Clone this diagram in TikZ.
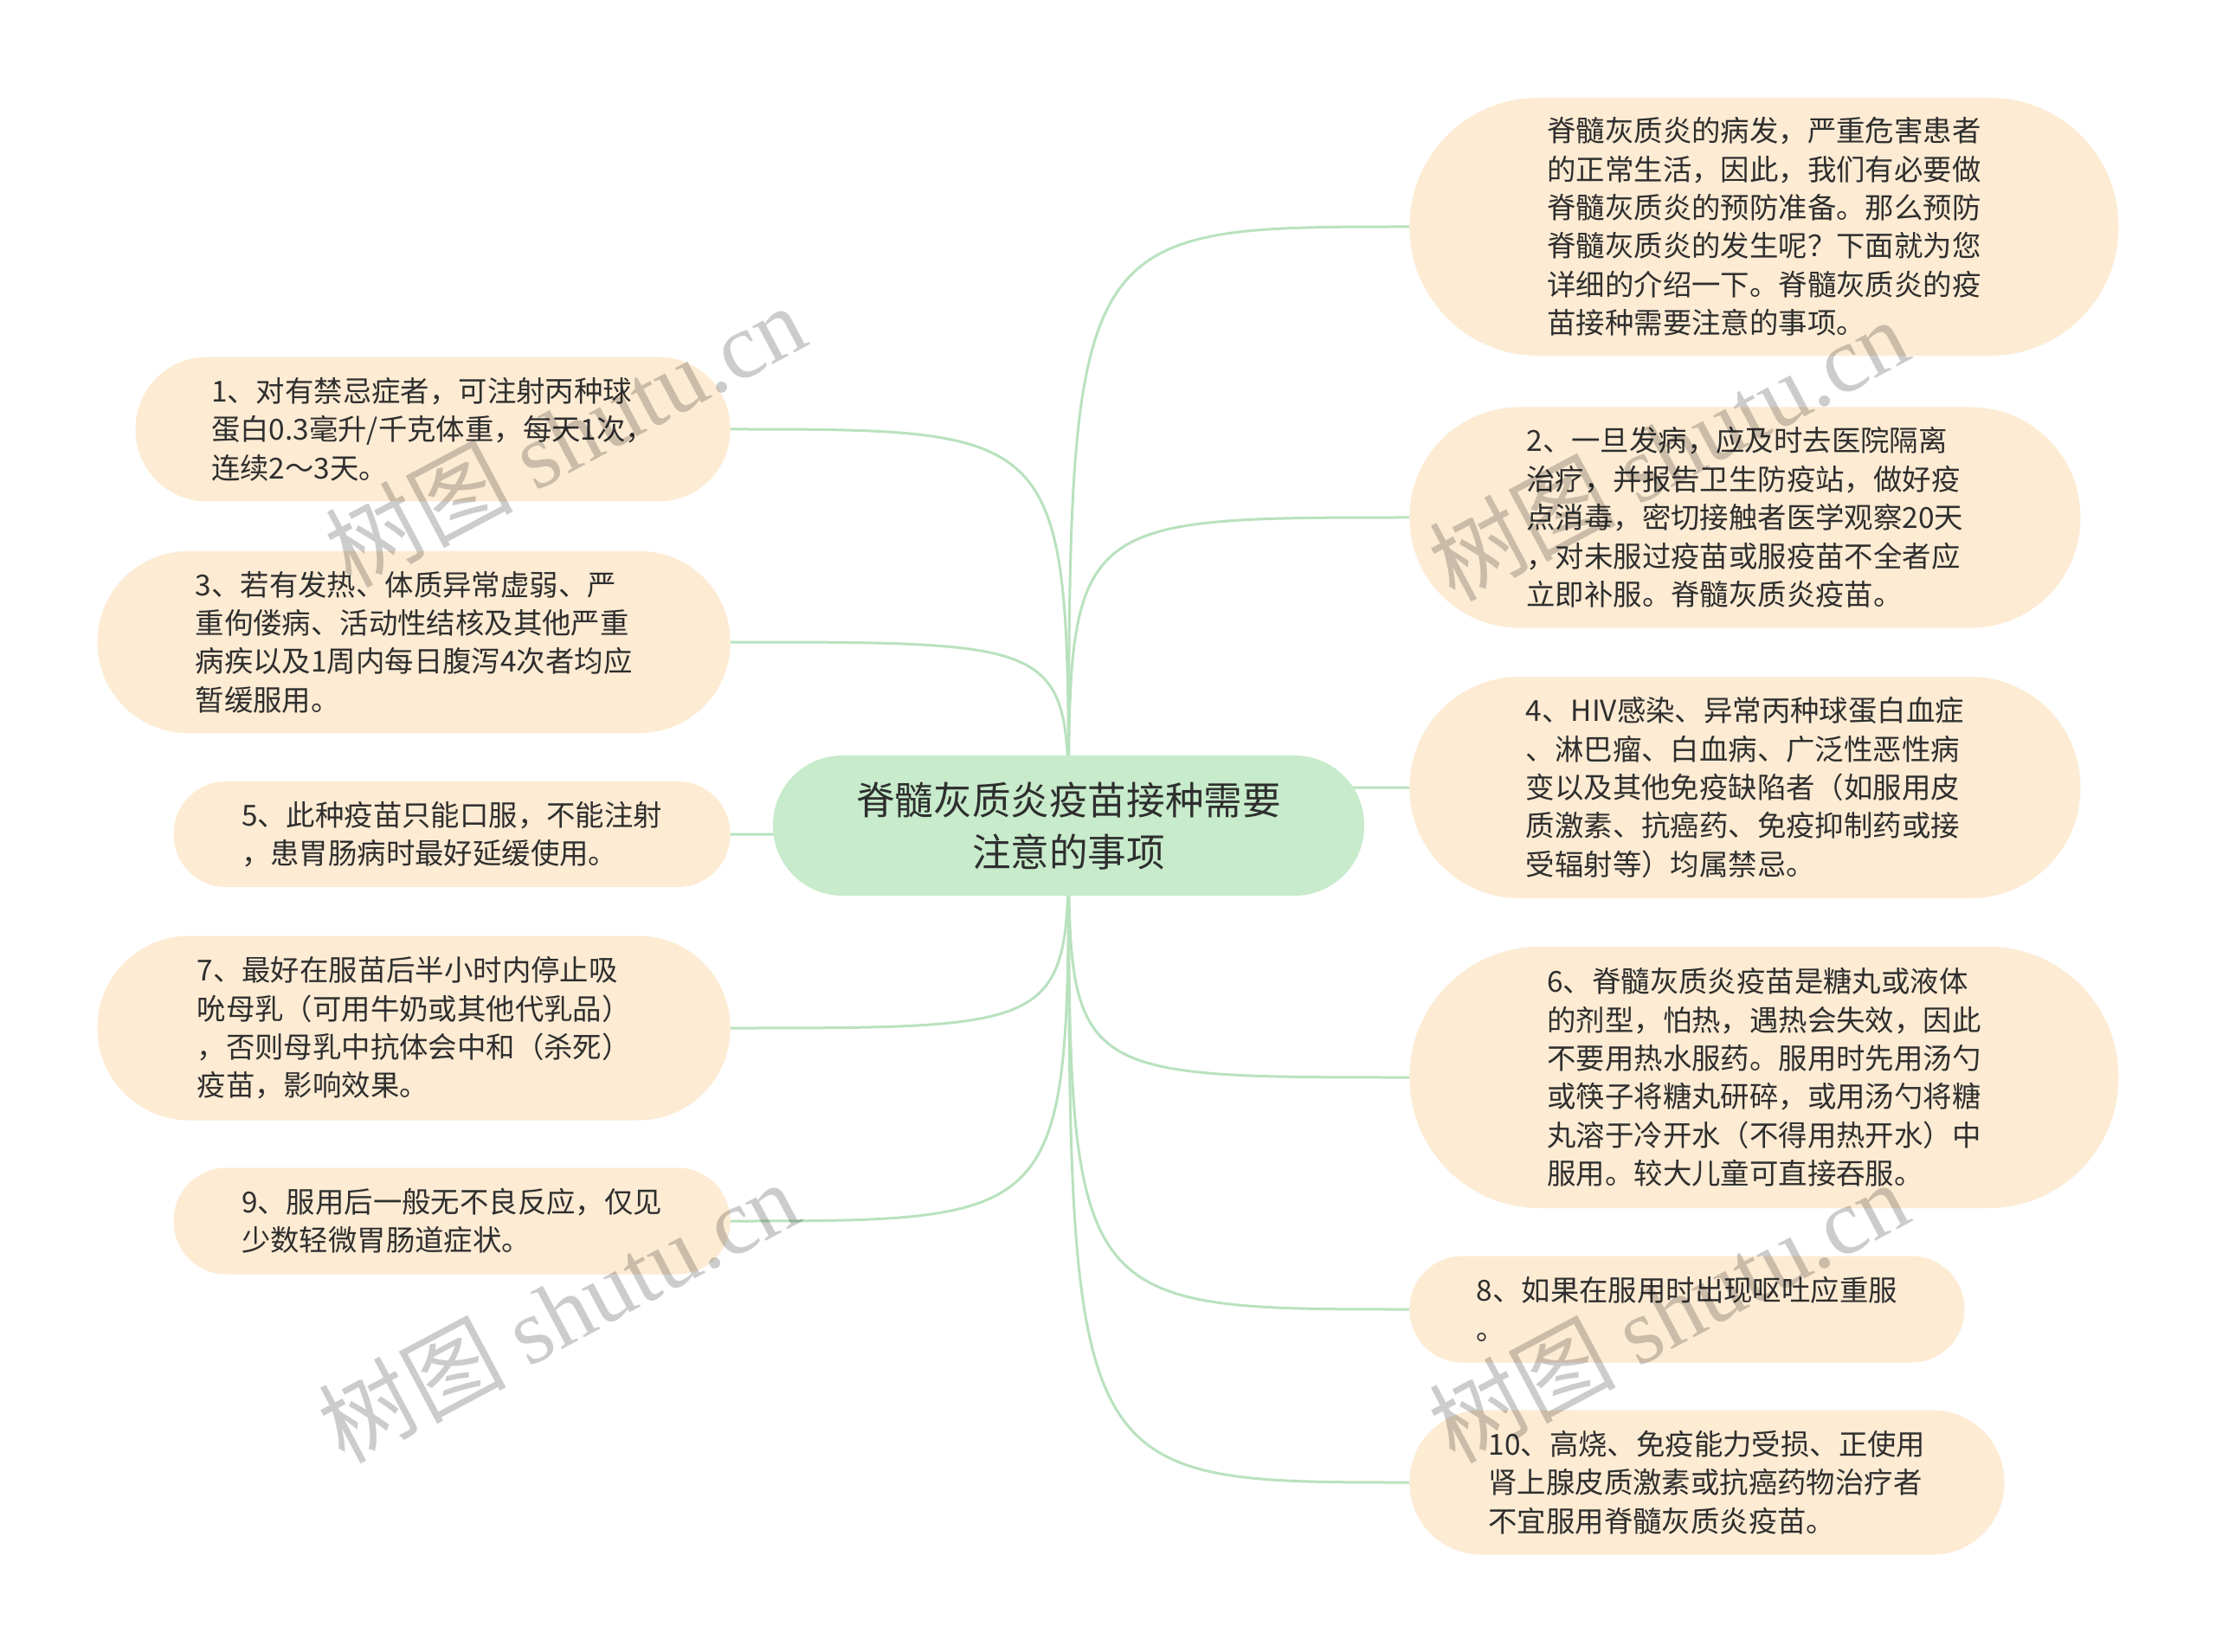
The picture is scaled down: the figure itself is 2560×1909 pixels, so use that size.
\documentclass[tikz,border=0pt]{standalone}
\usepackage{fontspec}
\setmainfont{Noto Sans CJK SC}
\newfontfamily\wmfont{Liberation Serif}
\usepackage{tikz}
\usetikzlibrary{backgrounds}
\definecolor{mint}{HTML}{C7EBCB}
\definecolor{peach}{HTML}{FDEBD3}
\definecolor{twig}{HTML}{B8E2BE}
\definecolor{ink}{HTML}{2E2E2E}

\begin{document}
\begin{tikzpicture}[x=0.5pt,y=-0.5pt,
  leaf/.style 2 args={fill=peach,text=ink,align=left,inner sep=0pt,
    minimum width=#1,minimum height=#2,rounded corners={#2/2-0.3pt},
    font={\fontsize{16.7pt}{22.2pt}\selectfont}},
  link/.style={draw=twig,line width=1.5pt},
  wm/.style={rotate=28,text=black,text opacity=0.2,font={\fontsize{54pt}{54pt}\selectfont}}]
  \useasboundingbox (0,0) rectangle (2560,1909);
  \node[fill=mint,text=ink,align=center,inner sep=0pt,minimum width=341.5pt,minimum height=81pt,
    rounded corners=40.2pt,font={\fontsize{22.3pt}{30pt}\selectfont}] (root) at (1234.5,954)
    {脊髓灰质炎疫苗接种需要\\注意的事项};
  \node[leaf={409.5pt}{149pt},anchor=west] (r1) at (1628,262)
    {脊髓灰质炎的病发，严重危害患者\\的正常生活，因此，我们有必要做\\脊髓灰质炎的预防准备。那么预防\\脊髓灰质炎的发生呢？下面就为您\\详细的介绍一下。脊髓灰质炎的疫\\苗接种需要注意的事项。};
  \node[leaf={387.5pt}{127.5pt},anchor=west] (r2) at (1628,598)
    {2、一旦发病，应及时去医院隔离\\治疗，并报告卫生防疫站，做好疫\\点消毒，密切接触者医学观察20天\\，对未服过疫苗或服疫苗不全者应\\立即补服。脊髓灰质炎疫苗。};
  \node[leaf={387.5pt}{128pt},anchor=west] (r4) at (1628,910)
    {4、HIV感染、异常丙种球蛋白血症\\、淋巴瘤、白血病、广泛性恶性病\\变以及其他免疫缺陷者（如服用皮\\质激素、抗癌药、免疫抑制药或接\\受辐射等）均属禁忌。};
  \node[leaf={409.5pt}{151pt},anchor=west] (r6) at (1628,1245)
    {6、脊髓灰质炎疫苗是糖丸或液体\\的剂型，怕热，遇热会失效，因此\\不要用热水服药。服用时先用汤勺\\或筷子将糖丸研碎，或用汤勺将糖\\丸溶于冷开水（不得用热开水）中\\服用。较大儿童可直接吞服。};
  \node[leaf={320.5pt}{61.5pt},anchor=west] (r8) at (1628,1513)
    {8、如果在服用时出现呕吐应重服\\。};
  \node[leaf={343.5pt}{83.5pt},anchor=west] (r10) at (1628,1713)
    {10、高烧、免疫能力受损、正使用\\肾上腺皮质激素或抗癌药物治疗者\\不宜服用脊髓灰质炎疫苗。};
  \node[leaf={343.5pt}{83.5pt},anchor=east] (l1) at (844,496)
    {1、对有禁忌症者，可注射丙种球\\蛋白0.3毫升/千克体重，每天1次，\\连续2～3天。};
  \node[leaf={365.5pt}{105pt},anchor=east] (l3) at (844,742)
    {3、若有发热、体质异常虚弱、严\\重佝偻病、活动性结核及其他严重\\病疾以及1周内每日腹泻4次者均应\\暂缓服用。};
  \node[leaf={321.5pt}{61pt},anchor=east] (l5) at (844,964)
    {5、此种疫苗只能口服，不能注射\\，患胃肠病时最好延缓使用。};
  \node[leaf={365.5pt}{106.5pt},anchor=east] (l7) at (844,1188)
    {7、最好在服苗后半小时内停止吸\\吮母乳（可用牛奶或其他代乳品）\\，否则母乳中抗体会中和（杀死）\\疫苗，影响效果。};
  \node[leaf={321.5pt}{61.5pt},anchor=east] (l9) at (844,1411)
    {9、服用后一般无不良反应，仅见\\少数轻微胃肠道症状。};
  \begin{scope}[on background layer]
    \fill[white] (0,0) rectangle (2560,1909);
    \foreach \n in {r1,r2,r4,r6,r8,r10}
      \draw[link] (root.center) .. controls (root.center |- \n.west) .. (\n.west);
    \foreach \n in {l1,l3,l5,l7,l9}
      \draw[link] (root.center) .. controls (root.center |- \n.east) .. (\n.east);
  \end{scope}
  \foreach \p in {(653,503),(1927,519),(645,1515),(1927,1515)}
    \node[wm] at \p {树图 {\wmfont shutu.cn}};
\end{tikzpicture}
\end{document}
